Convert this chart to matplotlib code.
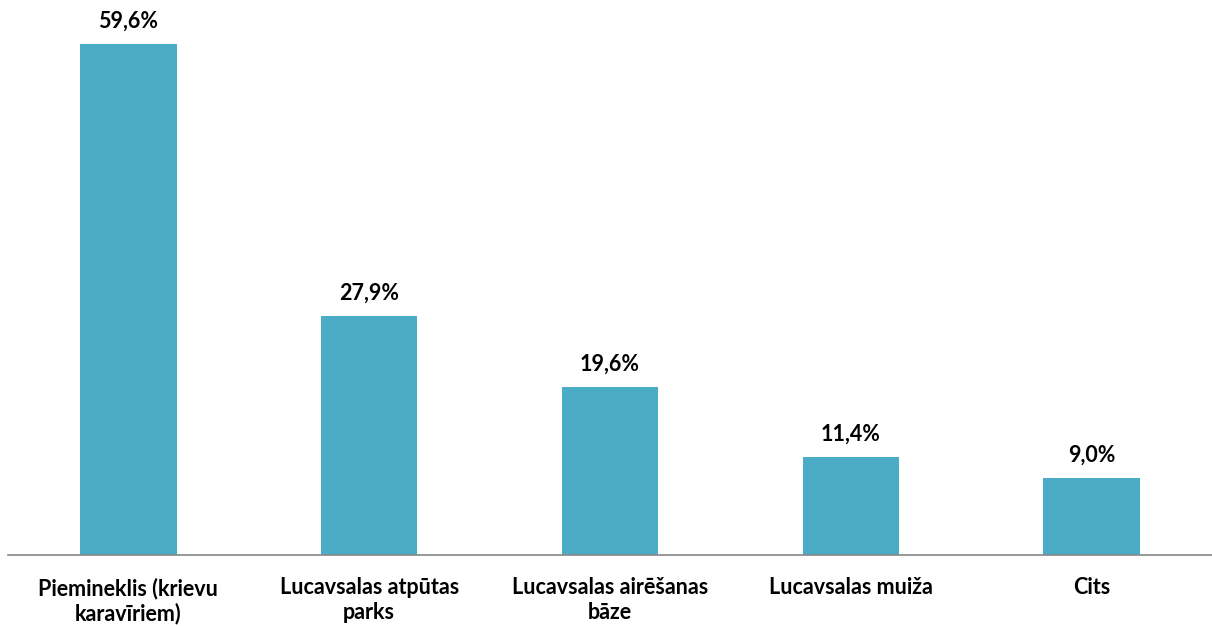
import matplotlib.pyplot as plt

categories = ["Piemineklis (krievu\nkaravīriem)", "Lucavsalas atpūtas\nparks",
              "Lucavsalas airēšanas\nbāze", "Lucavsalas muiža", "Cits"]
values = [59.6, 27.9, 19.6, 11.4, 9.0]
value_labels = ["59,6%", "27,9%", "19,6%", "11,4%", "9,0%"]

plt.rcParams['font.family'] = ['Lato', 'DejaVu Sans']

fig = plt.figure(figsize=(12.12, 6.26), dpi=100)
ax = fig.add_axes([8 / 1212, 71 / 626, 1 - 8 / 1212, 555 / 626])

x = range(len(categories))
bars = ax.bar(x, values, width=0.4, color='#4BACC6')

# value labels above bars
for b, lab in zip(bars, value_labels):
    ax.annotate(lab, (b.get_x() + b.get_width() / 2, b.get_height()),
                xytext=(0, 9), textcoords='offset points',
                ha='center', va='bottom', fontsize=15.5, fontweight='bold')

ax.set_xlim(-0.5, 4.5)
ax.set_ylim(0, 64.75)
ax.set_xticks(list(x))
ax.set_xticklabels(categories, fontsize=15.5, fontweight='bold',
                   linespacing=1.2, multialignment='center')
ax.tick_params(axis='x', length=0, pad=16)
ax.set_yticks([])
for s in ['top', 'right', 'left']:
    ax.spines[s].set_visible(False)
ax.spines['bottom'].set_color('#868686')
ax.spines['bottom'].set_linewidth(1.2)

fig.savefig('out.png', dpi=100)
